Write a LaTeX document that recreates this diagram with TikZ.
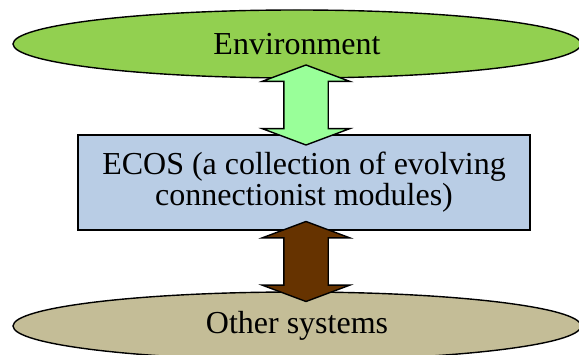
\documentclass[tikz,border=0pt]{standalone}
\usepackage{fontspec}
\setmainfont{Liberation Serif}
\usepackage{xcolor}
\usetikzlibrary{shapes.geometric}
\usetikzlibrary{shapes.arrows}

\definecolor{envgreen}{HTML}{92D050}
\definecolor{othertan}{HTML}{C4BD97}
\definecolor{ecosblue}{HTML}{B9CDE5}
\definecolor{linkgreen}{HTML}{99FF99}
\definecolor{linkbrown}{HTML}{663300}

\begin{document}
\begin{tikzpicture}[x=1pt,y=-1pt,line width=1.4pt]
\tikzset{
  world/.style={ellipse,draw,minimum width=568pt,minimum height=68pt,inner sep=0pt,font=\fontsize{32}{32}\selectfont},
  link/.style={double arrow,draw,rotate=90,minimum height=80pt,inner xsep=0pt,inner ysep=21.5pt,double arrow head extend=21.5pt,double arrow tip angle=139}
}
\useasboundingbox (0,0) rectangle (579,355);
\node [world,fill=envgreen] (env) at (297,44) {Environment};
\node [world,fill=othertan] (other) at (297,326) {Other systems};
\node [draw,fill=ecosblue,minimum width=452pt,minimum height=95pt,align=center,font=\fontsize{32}{31}\selectfont] (ecos) at (304,182.5) {ECOS (a collection of evolving\\connectionist modules)};

\node [link,fill=linkgreen] (envlink) at (306,105) {};
\node [link,fill=linkbrown] (otherlink) at (306,261.5) {};
\end{tikzpicture}
\end{document}
